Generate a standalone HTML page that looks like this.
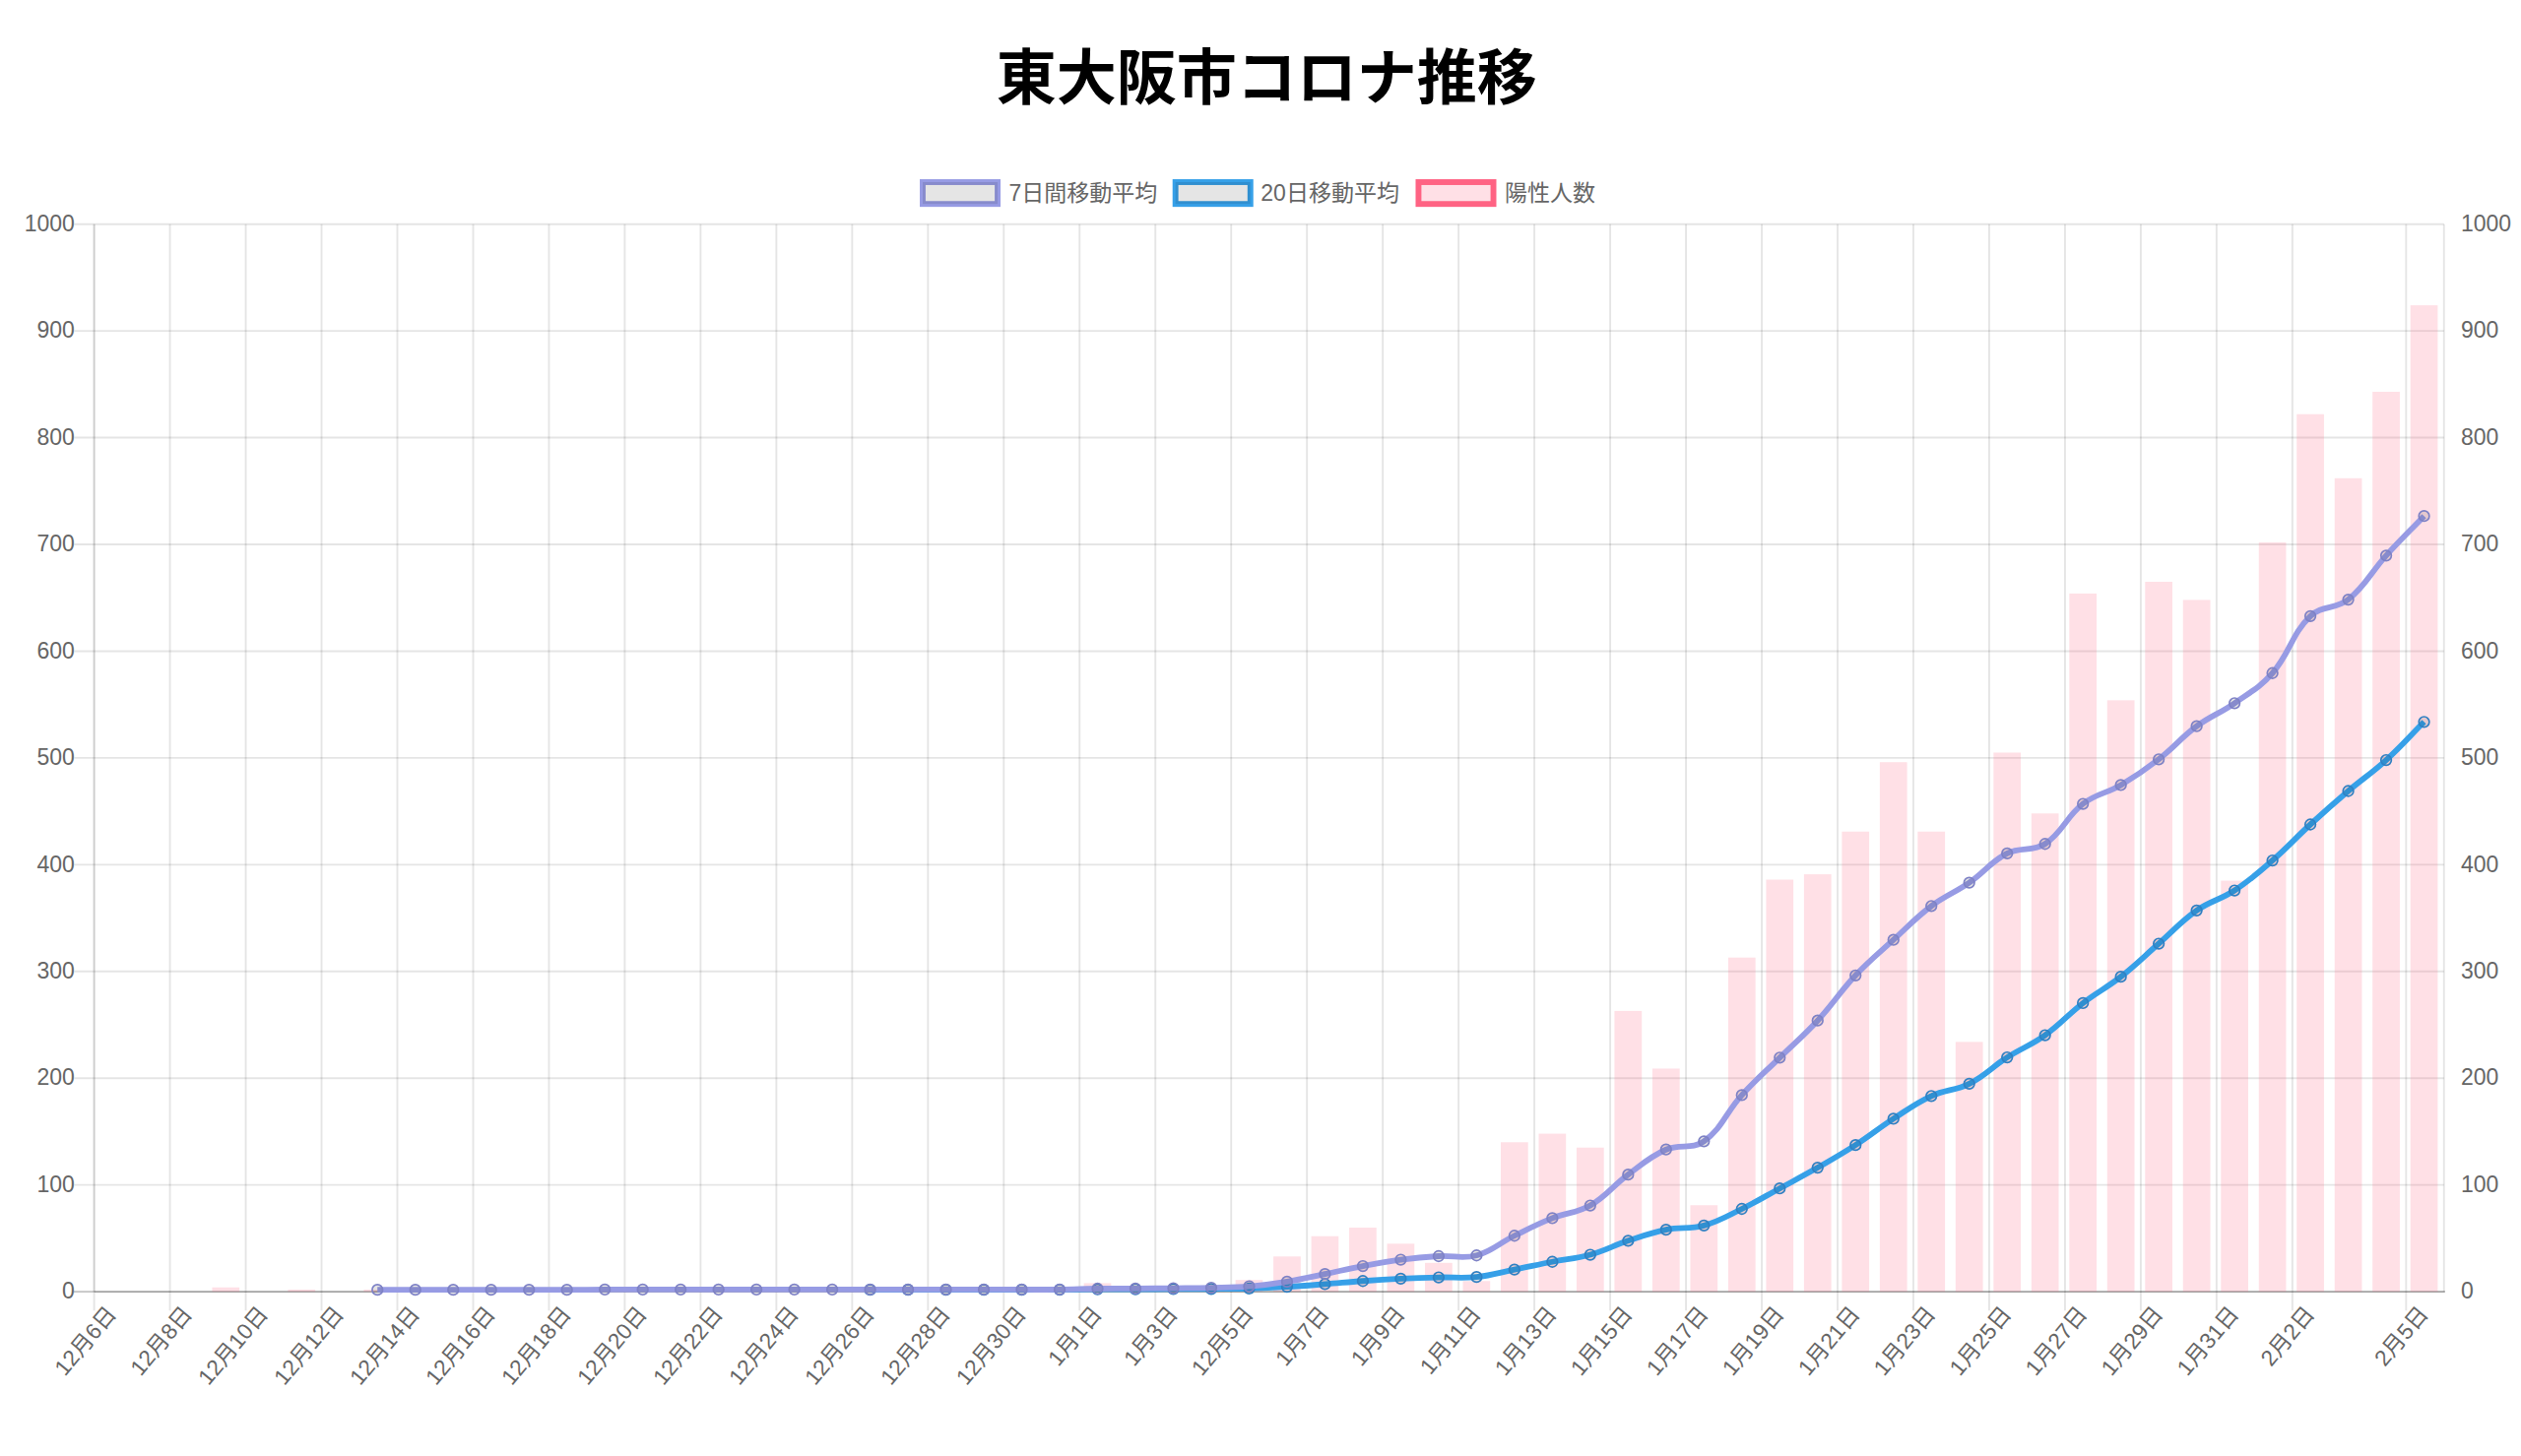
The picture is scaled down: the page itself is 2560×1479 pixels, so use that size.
<!DOCTYPE html>
<html><head><meta charset="utf-8"><title>東大阪市コロナ推移</title>
<style>html,body{margin:0;padding:0;background:#fff}svg{display:block}</style></head>
<body>
<svg width="2560" height="1479" viewBox="0 0 2560 1479">
<rect width="2560" height="1479" fill="#fff"/>
<text x="1286.2" y="100.5" text-anchor="middle" font-family='"Liberation Sans", "Noto Sans CJK JP", sans-serif' font-weight="bold" font-size="61" fill="#000">東大阪市コロナ推移</text>
<g stroke="rgba(0,0,0,0.1)" stroke-width="1.92" fill="none">
<path d="M75.40 1203.66H2481.80"/>
<path d="M75.40 1095.22H2481.80"/>
<path d="M75.40 986.78H2481.80"/>
<path d="M75.40 878.34H2481.80"/>
<path d="M75.40 769.90H2481.80"/>
<path d="M75.40 661.46H2481.80"/>
<path d="M75.40 553.02H2481.80"/>
<path d="M75.40 444.58H2481.80"/>
<path d="M75.40 336.14H2481.80"/>
<path d="M75.40 227.70H2481.80"/>
<path d="M95.60 227.70V1331.30"/>
<path d="M172.57 227.70V1331.30"/>
<path d="M249.55 227.70V1331.30"/>
<path d="M326.52 227.70V1331.30"/>
<path d="M403.50 227.70V1331.30"/>
<path d="M480.47 227.70V1331.30"/>
<path d="M557.45 227.70V1331.30"/>
<path d="M634.42 227.70V1331.30"/>
<path d="M711.39 227.70V1331.30"/>
<path d="M788.37 227.70V1331.30"/>
<path d="M865.34 227.70V1331.30"/>
<path d="M942.32 227.70V1331.30"/>
<path d="M1019.29 227.70V1331.30"/>
<path d="M1096.26 227.70V1331.30"/>
<path d="M1173.24 227.70V1331.30"/>
<path d="M1250.21 227.70V1331.30"/>
<path d="M1327.19 227.70V1331.30"/>
<path d="M1404.16 227.70V1331.30"/>
<path d="M1481.14 227.70V1331.30"/>
<path d="M1558.11 227.70V1331.30"/>
<path d="M1635.08 227.70V1331.30"/>
<path d="M1712.06 227.70V1331.30"/>
<path d="M1789.03 227.70V1331.30"/>
<path d="M1866.01 227.70V1331.30"/>
<path d="M1942.98 227.70V1331.30"/>
<path d="M2019.95 227.70V1331.30"/>
<path d="M2096.93 227.70V1331.30"/>
<path d="M2173.90 227.70V1331.30"/>
<path d="M2250.88 227.70V1331.30"/>
<path d="M2327.85 227.70V1331.30"/>
<path d="M2443.31 227.70V1331.30"/>
<path d="M95.60 227.70V1312.10"/>
<path d="M2481.80 227.70V1312.10"/>
</g>
<path d="M74.90 1312.10H95.60" stroke="rgba(0,0,0,0.22)" stroke-width="1.92"/>
<path d="M95.60 1312.10H2482.80" stroke="rgba(0,0,0,0.36)" stroke-width="1.92"/>
<g fill="rgba(255,99,132,0.2)">
<rect x="215.45" y="1307.76" width="27.71" height="4.34"/>
<rect x="292.42" y="1309.93" width="27.71" height="2.17"/>
<rect x="369.40" y="1309.93" width="27.71" height="2.17"/>
<rect x="407.88" y="1309.93" width="27.71" height="2.17"/>
<rect x="446.37" y="1309.93" width="27.71" height="2.17"/>
<rect x="484.86" y="1309.93" width="27.71" height="2.17"/>
<rect x="523.35" y="1309.93" width="27.71" height="2.17"/>
<rect x="561.83" y="1309.93" width="27.71" height="2.17"/>
<rect x="600.32" y="1309.93" width="27.71" height="2.17"/>
<rect x="638.81" y="1309.93" width="27.71" height="2.17"/>
<rect x="677.29" y="1309.93" width="27.71" height="2.17"/>
<rect x="715.78" y="1309.93" width="27.71" height="2.17"/>
<rect x="754.27" y="1309.93" width="27.71" height="2.17"/>
<rect x="792.76" y="1309.93" width="27.71" height="2.17"/>
<rect x="831.24" y="1309.93" width="27.71" height="2.17"/>
<rect x="869.73" y="1309.93" width="27.71" height="2.17"/>
<rect x="908.22" y="1309.93" width="27.71" height="2.17"/>
<rect x="946.70" y="1309.93" width="27.71" height="2.17"/>
<rect x="985.19" y="1309.93" width="27.71" height="2.17"/>
<rect x="1023.68" y="1309.93" width="27.71" height="2.17"/>
<rect x="1062.17" y="1309.93" width="27.71" height="2.17"/>
<rect x="1100.65" y="1303.42" width="27.71" height="8.68"/>
<rect x="1139.14" y="1308.85" width="27.71" height="3.25"/>
<rect x="1177.63" y="1307.76" width="27.71" height="4.34"/>
<rect x="1216.11" y="1306.68" width="27.71" height="5.42"/>
<rect x="1254.60" y="1300.17" width="27.71" height="11.93"/>
<rect x="1293.09" y="1276.31" width="27.71" height="35.79"/>
<rect x="1331.58" y="1255.71" width="27.71" height="56.39"/>
<rect x="1370.06" y="1247.04" width="27.71" height="65.06"/>
<rect x="1408.55" y="1263.30" width="27.71" height="48.80"/>
<rect x="1447.04" y="1282.82" width="27.71" height="29.28"/>
<rect x="1485.52" y="1301.26" width="27.71" height="10.84"/>
<rect x="1524.01" y="1160.28" width="27.71" height="151.82"/>
<rect x="1562.50" y="1151.61" width="27.71" height="160.49"/>
<rect x="1600.98" y="1165.71" width="27.71" height="146.39"/>
<rect x="1639.47" y="1026.90" width="27.71" height="285.20"/>
<rect x="1677.96" y="1085.46" width="27.71" height="226.64"/>
<rect x="1716.45" y="1224.26" width="27.71" height="87.84"/>
<rect x="1754.93" y="972.68" width="27.71" height="339.42"/>
<rect x="1793.42" y="893.52" width="27.71" height="418.58"/>
<rect x="1831.91" y="888.10" width="27.71" height="424.00"/>
<rect x="1870.39" y="844.72" width="27.71" height="467.38"/>
<rect x="1908.88" y="774.24" width="27.71" height="537.86"/>
<rect x="1947.37" y="844.72" width="27.71" height="467.38"/>
<rect x="1985.86" y="1058.35" width="27.71" height="253.75"/>
<rect x="2024.34" y="764.48" width="27.71" height="547.62"/>
<rect x="2062.83" y="826.29" width="27.71" height="485.81"/>
<rect x="2101.32" y="602.90" width="27.71" height="709.20"/>
<rect x="2139.80" y="711.34" width="27.71" height="600.76"/>
<rect x="2178.29" y="590.97" width="27.71" height="721.13"/>
<rect x="2216.78" y="609.41" width="27.71" height="702.69"/>
<rect x="2255.27" y="894.61" width="27.71" height="417.49"/>
<rect x="2293.75" y="550.85" width="27.71" height="761.25"/>
<rect x="2332.24" y="420.72" width="27.71" height="891.38"/>
<rect x="2370.73" y="485.79" width="27.71" height="826.31"/>
<rect x="2409.21" y="397.95" width="27.71" height="914.15"/>
<rect x="2447.70" y="310.11" width="27.71" height="1001.99"/>
</g>
<path d="M883.59 1310.15C898.98 1310.15 906.68 1310.17 922.07 1310.15C937.47 1310.13 945.16 1310.04 960.56 1310.04C975.95 1310.04 983.65 1310.15 999.05 1310.15C1014.44 1310.15 1022.14 1310.06 1037.53 1310.04C1052.93 1310.02 1060.63 1310.13 1076.02 1310.04C1091.42 1309.95 1099.11 1309.70 1114.51 1309.61C1129.90 1309.51 1137.60 1309.58 1153.00 1309.55C1168.39 1309.52 1176.09 1309.50 1191.48 1309.44C1206.88 1309.39 1214.58 1309.41 1229.97 1309.28C1245.36 1309.15 1253.07 1309.23 1268.46 1308.79C1283.86 1308.36 1291.56 1307.99 1306.94 1307.11C1322.35 1306.23 1330.04 1305.57 1345.43 1304.40C1360.83 1303.23 1368.51 1302.35 1383.92 1301.26C1399.30 1300.16 1407.00 1299.66 1422.40 1298.92C1437.79 1298.19 1445.49 1297.93 1460.89 1297.57C1476.28 1297.21 1484.13 1298.70 1499.38 1297.14C1514.92 1295.54 1522.49 1292.73 1537.87 1289.65C1553.28 1286.57 1560.93 1284.77 1576.35 1281.74C1591.72 1278.72 1599.80 1278.70 1614.84 1274.53C1630.59 1270.15 1637.76 1265.51 1653.33 1260.37C1668.55 1255.36 1676.15 1252.31 1691.81 1249.15C1706.94 1246.10 1715.53 1248.92 1730.30 1244.87C1746.32 1240.47 1753.71 1235.39 1768.79 1228.00C1784.50 1220.32 1791.90 1215.55 1807.28 1207.18C1822.69 1198.79 1830.53 1194.81 1845.76 1186.09C1861.32 1177.20 1869.20 1172.87 1884.25 1163.16C1899.99 1153.00 1907.02 1146.62 1922.74 1136.43C1937.81 1126.66 1945.02 1120.76 1961.22 1113.28C1975.81 1106.53 1985.45 1108.12 1999.71 1100.86C2016.24 1092.44 2022.42 1084.18 2038.20 1074.07C2053.20 1064.47 2062.24 1061.92 2076.69 1051.57C2093.03 1039.86 2099.21 1031.25 2115.17 1018.93C2130.00 1007.48 2138.93 1003.71 2153.66 992.15C2169.72 979.55 2176.76 971.98 2192.15 958.53C2207.55 945.07 2214.00 936.53 2230.63 924.86C2244.79 914.93 2254.65 914.08 2269.12 904.53C2285.44 893.76 2292.81 886.94 2307.61 874.06C2323.60 860.13 2330.45 851.85 2346.10 837.51C2361.24 823.64 2368.94 816.82 2384.58 803.52C2399.73 790.64 2408.40 785.45 2423.07 772.07C2439.19 757.36 2446.16 748.81 2461.56 733.30" fill="none" stroke="rgb(54,160,232)" stroke-width="5.8" stroke-linecap="butt" stroke-linejoin="miter"/>
<g fill="rgba(0,0,0,0.1)" stroke="rgb(48,128,195)" stroke-width="1.7">
<circle cx="883.59" cy="1310.15" r="5.3"/>
<circle cx="922.07" cy="1310.15" r="5.3"/>
<circle cx="960.56" cy="1310.04" r="5.3"/>
<circle cx="999.05" cy="1310.15" r="5.3"/>
<circle cx="1037.53" cy="1310.04" r="5.3"/>
<circle cx="1076.02" cy="1310.04" r="5.3"/>
<circle cx="1114.51" cy="1309.61" r="5.3"/>
<circle cx="1153.00" cy="1309.55" r="5.3"/>
<circle cx="1191.48" cy="1309.44" r="5.3"/>
<circle cx="1229.97" cy="1309.28" r="5.3"/>
<circle cx="1268.46" cy="1308.79" r="5.3"/>
<circle cx="1306.94" cy="1307.11" r="5.3"/>
<circle cx="1345.43" cy="1304.40" r="5.3"/>
<circle cx="1383.92" cy="1301.26" r="5.3"/>
<circle cx="1422.40" cy="1298.92" r="5.3"/>
<circle cx="1460.89" cy="1297.57" r="5.3"/>
<circle cx="1499.38" cy="1297.14" r="5.3"/>
<circle cx="1537.87" cy="1289.65" r="5.3"/>
<circle cx="1576.35" cy="1281.74" r="5.3"/>
<circle cx="1614.84" cy="1274.53" r="5.3"/>
<circle cx="1653.33" cy="1260.37" r="5.3"/>
<circle cx="1691.81" cy="1249.15" r="5.3"/>
<circle cx="1730.30" cy="1244.87" r="5.3"/>
<circle cx="1768.79" cy="1228.00" r="5.3"/>
<circle cx="1807.28" cy="1207.18" r="5.3"/>
<circle cx="1845.76" cy="1186.09" r="5.3"/>
<circle cx="1884.25" cy="1163.16" r="5.3"/>
<circle cx="1922.74" cy="1136.43" r="5.3"/>
<circle cx="1961.22" cy="1113.28" r="5.3"/>
<circle cx="1999.71" cy="1100.86" r="5.3"/>
<circle cx="2038.20" cy="1074.07" r="5.3"/>
<circle cx="2076.69" cy="1051.57" r="5.3"/>
<circle cx="2115.17" cy="1018.93" r="5.3"/>
<circle cx="2153.66" cy="992.15" r="5.3"/>
<circle cx="2192.15" cy="958.53" r="5.3"/>
<circle cx="2230.63" cy="924.86" r="5.3"/>
<circle cx="2269.12" cy="904.53" r="5.3"/>
<circle cx="2307.61" cy="874.06" r="5.3"/>
<circle cx="2346.10" cy="837.51" r="5.3"/>
<circle cx="2384.58" cy="803.52" r="5.3"/>
<circle cx="2423.07" cy="772.07" r="5.3"/>
<circle cx="2461.56" cy="733.30" r="5.3"/>
</g>
<path d="M383.25 1310.15C398.65 1310.15 406.35 1310.15 421.74 1310.15C437.14 1310.15 444.83 1310.15 460.23 1310.15C475.62 1310.15 483.32 1310.15 498.71 1310.15C514.11 1310.15 521.81 1310.15 537.20 1310.15C552.60 1310.15 560.29 1310.19 575.69 1310.15C591.08 1310.10 598.78 1309.97 614.18 1309.93C629.57 1309.89 637.27 1309.93 652.66 1309.93C668.06 1309.93 675.76 1309.93 691.15 1309.93C706.54 1309.93 714.24 1309.93 729.64 1309.93C745.03 1309.93 752.73 1309.93 768.12 1309.93C783.52 1309.93 791.22 1309.93 806.61 1309.93C822.01 1309.93 829.70 1309.93 845.10 1309.93C860.49 1309.93 868.19 1309.93 883.59 1309.93C898.98 1309.93 906.68 1309.93 922.07 1309.93C937.47 1309.93 945.16 1309.93 960.56 1309.93C975.95 1309.93 983.65 1309.93 999.05 1309.93C1014.44 1309.93 1022.14 1309.93 1037.53 1309.93C1052.93 1309.93 1060.63 1310.12 1076.02 1309.93C1091.42 1309.75 1099.11 1309.22 1114.51 1309.00C1129.90 1308.78 1137.60 1308.94 1153.00 1308.85C1168.39 1308.75 1176.09 1308.69 1191.48 1308.54C1206.88 1308.38 1214.58 1308.44 1229.97 1308.07C1245.37 1307.70 1253.12 1307.91 1268.46 1306.68C1283.91 1305.43 1291.64 1304.37 1306.94 1301.88C1322.43 1299.35 1330.05 1297.29 1345.43 1294.13C1360.84 1290.97 1368.47 1289.00 1383.92 1286.07C1399.26 1283.17 1406.93 1281.59 1422.40 1279.57C1437.72 1277.56 1445.47 1276.87 1460.89 1276.00C1476.26 1275.14 1484.90 1279.14 1499.38 1275.23C1515.69 1270.83 1522.30 1262.89 1537.87 1255.25C1553.09 1247.77 1560.62 1243.70 1576.35 1237.43C1591.41 1231.43 1601.00 1232.54 1614.84 1224.57C1631.79 1214.82 1637.36 1204.92 1653.33 1193.13C1668.15 1182.18 1675.21 1175.01 1691.81 1167.72C1706.00 1161.50 1718.19 1168.06 1730.30 1159.35C1748.97 1145.94 1752.52 1130.39 1768.79 1112.42C1783.31 1096.37 1791.83 1089.50 1807.28 1074.31C1822.62 1059.20 1831.18 1052.48 1845.76 1036.66C1861.97 1019.08 1867.88 1008.23 1884.25 990.81C1898.67 975.45 1907.17 968.97 1922.74 954.71C1937.96 940.77 1944.81 932.71 1961.22 920.32C1975.60 909.47 1984.88 906.92 1999.71 896.62C2015.67 885.54 2021.24 875.55 2038.20 866.88C2052.03 859.81 2063.93 865.62 2076.69 857.27C2094.71 845.48 2097.74 830.07 2115.17 816.53C2128.53 806.15 2138.88 806.16 2153.66 797.47C2169.67 788.06 2177.47 782.70 2192.15 771.29C2208.26 758.78 2214.27 749.80 2230.63 737.68C2245.06 727.00 2254.39 724.60 2269.12 714.29C2285.18 703.04 2294.86 698.41 2307.61 683.77C2325.65 663.03 2326.89 644.46 2346.10 625.83C2357.68 614.59 2371.79 619.32 2384.58 609.10C2402.58 594.72 2407.21 581.82 2423.07 564.33C2438.00 547.86 2446.16 540.26 2461.56 524.21" fill="none" stroke="rgb(151,155,228)" stroke-width="5.8" stroke-linecap="butt" stroke-linejoin="miter"/>
<g fill="rgba(0,0,0,0.1)" stroke="rgb(126,130,198)" stroke-width="1.7">
<circle cx="383.25" cy="1310.15" r="5.3"/>
<circle cx="421.74" cy="1310.15" r="5.3"/>
<circle cx="460.23" cy="1310.15" r="5.3"/>
<circle cx="498.71" cy="1310.15" r="5.3"/>
<circle cx="537.20" cy="1310.15" r="5.3"/>
<circle cx="575.69" cy="1310.15" r="5.3"/>
<circle cx="614.18" cy="1309.93" r="5.3"/>
<circle cx="652.66" cy="1309.93" r="5.3"/>
<circle cx="691.15" cy="1309.93" r="5.3"/>
<circle cx="729.64" cy="1309.93" r="5.3"/>
<circle cx="768.12" cy="1309.93" r="5.3"/>
<circle cx="806.61" cy="1309.93" r="5.3"/>
<circle cx="845.10" cy="1309.93" r="5.3"/>
<circle cx="883.59" cy="1309.93" r="5.3"/>
<circle cx="922.07" cy="1309.93" r="5.3"/>
<circle cx="960.56" cy="1309.93" r="5.3"/>
<circle cx="999.05" cy="1309.93" r="5.3"/>
<circle cx="1037.53" cy="1309.93" r="5.3"/>
<circle cx="1076.02" cy="1309.93" r="5.3"/>
<circle cx="1114.51" cy="1309.00" r="5.3"/>
<circle cx="1153.00" cy="1308.85" r="5.3"/>
<circle cx="1191.48" cy="1308.54" r="5.3"/>
<circle cx="1229.97" cy="1308.07" r="5.3"/>
<circle cx="1268.46" cy="1306.68" r="5.3"/>
<circle cx="1306.94" cy="1301.88" r="5.3"/>
<circle cx="1345.43" cy="1294.13" r="5.3"/>
<circle cx="1383.92" cy="1286.07" r="5.3"/>
<circle cx="1422.40" cy="1279.57" r="5.3"/>
<circle cx="1460.89" cy="1276.00" r="5.3"/>
<circle cx="1499.38" cy="1275.23" r="5.3"/>
<circle cx="1537.87" cy="1255.25" r="5.3"/>
<circle cx="1576.35" cy="1237.43" r="5.3"/>
<circle cx="1614.84" cy="1224.57" r="5.3"/>
<circle cx="1653.33" cy="1193.13" r="5.3"/>
<circle cx="1691.81" cy="1167.72" r="5.3"/>
<circle cx="1730.30" cy="1159.35" r="5.3"/>
<circle cx="1768.79" cy="1112.42" r="5.3"/>
<circle cx="1807.28" cy="1074.31" r="5.3"/>
<circle cx="1845.76" cy="1036.66" r="5.3"/>
<circle cx="1884.25" cy="990.81" r="5.3"/>
<circle cx="1922.74" cy="954.71" r="5.3"/>
<circle cx="1961.22" cy="920.32" r="5.3"/>
<circle cx="1999.71" cy="896.62" r="5.3"/>
<circle cx="2038.20" cy="866.88" r="5.3"/>
<circle cx="2076.69" cy="857.27" r="5.3"/>
<circle cx="2115.17" cy="816.53" r="5.3"/>
<circle cx="2153.66" cy="797.47" r="5.3"/>
<circle cx="2192.15" cy="771.29" r="5.3"/>
<circle cx="2230.63" cy="737.68" r="5.3"/>
<circle cx="2269.12" cy="714.29" r="5.3"/>
<circle cx="2307.61" cy="683.77" r="5.3"/>
<circle cx="2346.10" cy="625.83" r="5.3"/>
<circle cx="2384.58" cy="609.10" r="5.3"/>
<circle cx="2423.07" cy="564.33" r="5.3"/>
<circle cx="2461.56" cy="524.21" r="5.3"/>
</g>
<g font-family='"Liberation Sans", "Noto Sans CJK JP", sans-serif' font-size="23" fill="#666">
<text x="75.8" y="1319.30" text-anchor="end">0</text>
<text x="2499.0" y="1319.30">0</text>
<text x="75.8" y="1210.86" text-anchor="end">100</text>
<text x="2499.0" y="1210.86">100</text>
<text x="75.8" y="1102.42" text-anchor="end">200</text>
<text x="2499.0" y="1102.42">200</text>
<text x="75.8" y="993.98" text-anchor="end">300</text>
<text x="2499.0" y="993.98">300</text>
<text x="75.8" y="885.54" text-anchor="end">400</text>
<text x="2499.0" y="885.54">400</text>
<text x="75.8" y="777.10" text-anchor="end">500</text>
<text x="2499.0" y="777.10">500</text>
<text x="75.8" y="668.66" text-anchor="end">600</text>
<text x="2499.0" y="668.66">600</text>
<text x="75.8" y="560.22" text-anchor="end">700</text>
<text x="2499.0" y="560.22">700</text>
<text x="75.8" y="451.78" text-anchor="end">800</text>
<text x="2499.0" y="451.78">800</text>
<text x="75.8" y="343.34" text-anchor="end">900</text>
<text x="2499.0" y="343.34">900</text>
<text x="75.8" y="234.90" text-anchor="end">1000</text>
<text x="2499.0" y="234.90">1000</text>
<text font-size="22.6" transform="translate(113.14 1330.1) rotate(-50)" x="0" y="8" text-anchor="end">12月6日</text>
<text font-size="22.6" transform="translate(190.12 1330.1) rotate(-50)" x="0" y="8" text-anchor="end">12月8日</text>
<text font-size="22.6" transform="translate(267.09 1330.1) rotate(-50)" x="0" y="8" text-anchor="end">12月10日</text>
<text font-size="22.6" transform="translate(344.07 1330.1) rotate(-50)" x="0" y="8" text-anchor="end">12月12日</text>
<text font-size="22.6" transform="translate(421.04 1330.1) rotate(-50)" x="0" y="8" text-anchor="end">12月14日</text>
<text font-size="22.6" transform="translate(498.01 1330.1) rotate(-50)" x="0" y="8" text-anchor="end">12月16日</text>
<text font-size="22.6" transform="translate(574.99 1330.1) rotate(-50)" x="0" y="8" text-anchor="end">12月18日</text>
<text font-size="22.6" transform="translate(651.96 1330.1) rotate(-50)" x="0" y="8" text-anchor="end">12月20日</text>
<text font-size="22.6" transform="translate(728.94 1330.1) rotate(-50)" x="0" y="8" text-anchor="end">12月22日</text>
<text font-size="22.6" transform="translate(805.91 1330.1) rotate(-50)" x="0" y="8" text-anchor="end">12月24日</text>
<text font-size="22.6" transform="translate(882.89 1330.1) rotate(-50)" x="0" y="8" text-anchor="end">12月26日</text>
<text font-size="22.6" transform="translate(959.86 1330.1) rotate(-50)" x="0" y="8" text-anchor="end">12月28日</text>
<text font-size="22.6" transform="translate(1036.83 1330.1) rotate(-50)" x="0" y="8" text-anchor="end">12月30日</text>
<text font-size="22.6" transform="translate(1113.81 1330.1) rotate(-50)" x="0" y="8" text-anchor="end">1月1日</text>
<text font-size="22.6" transform="translate(1190.78 1330.1) rotate(-50)" x="0" y="8" text-anchor="end">1月3日</text>
<text font-size="22.6" transform="translate(1267.76 1330.1) rotate(-50)" x="0" y="8" text-anchor="end">12月5日</text>
<text font-size="22.6" transform="translate(1344.73 1330.1) rotate(-50)" x="0" y="8" text-anchor="end">1月7日</text>
<text font-size="22.6" transform="translate(1421.70 1330.1) rotate(-50)" x="0" y="8" text-anchor="end">1月9日</text>
<text font-size="22.6" transform="translate(1498.68 1330.1) rotate(-50)" x="0" y="8" text-anchor="end">1月11日</text>
<text font-size="22.6" transform="translate(1575.65 1330.1) rotate(-50)" x="0" y="8" text-anchor="end">1月13日</text>
<text font-size="22.6" transform="translate(1652.63 1330.1) rotate(-50)" x="0" y="8" text-anchor="end">1月15日</text>
<text font-size="22.6" transform="translate(1729.60 1330.1) rotate(-50)" x="0" y="8" text-anchor="end">1月17日</text>
<text font-size="22.6" transform="translate(1806.58 1330.1) rotate(-50)" x="0" y="8" text-anchor="end">1月19日</text>
<text font-size="22.6" transform="translate(1883.55 1330.1) rotate(-50)" x="0" y="8" text-anchor="end">1月21日</text>
<text font-size="22.6" transform="translate(1960.52 1330.1) rotate(-50)" x="0" y="8" text-anchor="end">1月23日</text>
<text font-size="22.6" transform="translate(2037.50 1330.1) rotate(-50)" x="0" y="8" text-anchor="end">1月25日</text>
<text font-size="22.6" transform="translate(2114.47 1330.1) rotate(-50)" x="0" y="8" text-anchor="end">1月27日</text>
<text font-size="22.6" transform="translate(2191.45 1330.1) rotate(-50)" x="0" y="8" text-anchor="end">1月29日</text>
<text font-size="22.6" transform="translate(2268.42 1330.1) rotate(-50)" x="0" y="8" text-anchor="end">1月31日</text>
<text font-size="22.6" transform="translate(2345.40 1330.1) rotate(-50)" x="0" y="8" text-anchor="end">2月2日</text>
<text font-size="22.6" transform="translate(2460.86 1330.1) rotate(-50)" x="0" y="8" text-anchor="end">2月5日</text>
<rect x="936.95" y="185" width="76.1" height="22.2" fill="none" stroke="rgb(151,155,228)" stroke-width="5.9"/>
<rect x="936.95" y="185" width="76.1" height="22.2" fill="rgba(0,0,0,0.1)"/>
<text x="1024.50" y="203.9">7日間移動平均</text>
<rect x="1193.65" y="185" width="76.1" height="22.2" fill="none" stroke="rgb(54,160,232)" stroke-width="5.9"/>
<rect x="1193.65" y="185" width="76.1" height="22.2" fill="rgba(0,0,0,0.1)"/>
<text x="1280.30" y="203.9">20日移動平均</text>
<rect x="1440.45" y="185" width="76.1" height="22.2" fill="none" stroke="rgba(255,99,132,1)" stroke-width="5.9"/>
<rect x="1440.45" y="185" width="76.1" height="22.2" fill="rgba(255,99,132,0.2)"/>
<text x="1528.00" y="203.9">陽性人数</text>
</g>
</svg>
</body></html>
